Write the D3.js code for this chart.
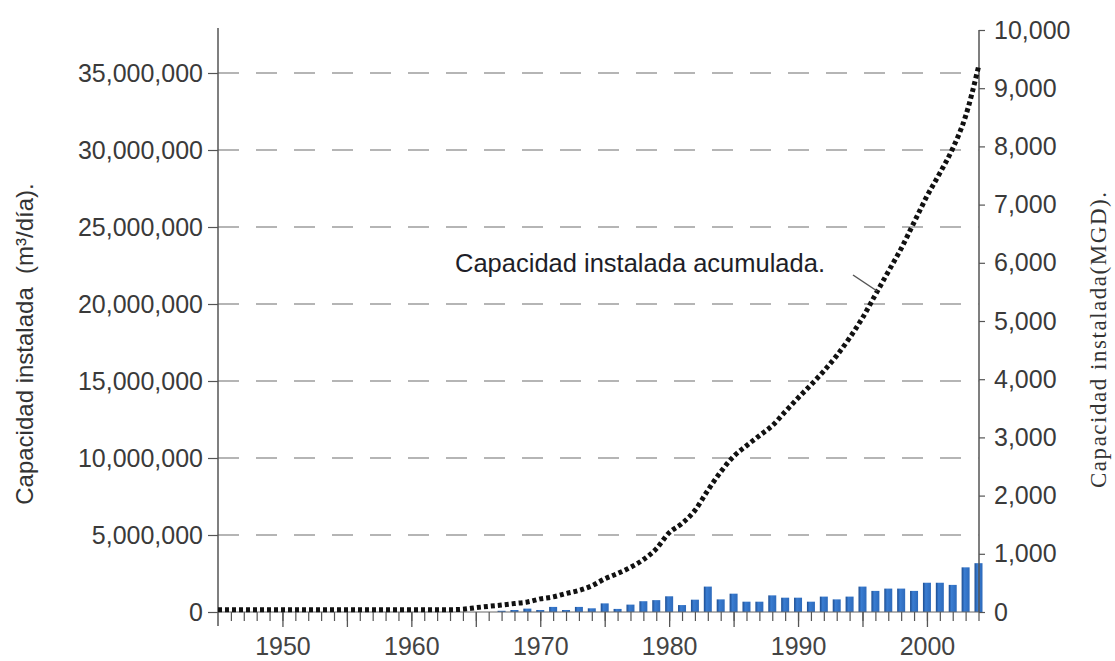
<!DOCTYPE html>
<html>
<head>
<meta charset="utf-8">
<script src="https://cdn.jsdelivr.net/npm/d3@7"></script>
<style>
  html, body { margin: 0; padding: 0; background: #fff; }
  svg { display: block; }
</style>
</head>
<body>
<svg id="chart" width="1115" height="661"></svg>
<script>
// ---- data ----
const cumYears = d3.range(1945, 2005);
// cumulative installed capacity, millions of m3/day
const cumValues = [
  0.15, 0.15, 0.15, 0.15, 0.15, 0.15, 0.15, 0.15, 0.15, 0.15,   // 1945-1954
  0.15, 0.15, 0.15, 0.15, 0.15, 0.15, 0.15, 0.15, 0.15, 0.18,   // 1955-1964
  0.28, 0.37, 0.45, 0.55, 0.65, 0.85, 0.98, 1.2, 1.4, 1.7,      // 1965-1974
  2.15, 2.5, 2.9, 3.4, 4.1, 5.15, 5.75, 6.6, 7.9, 9.1,          // 1975-1984
  10.1, 10.8, 11.45, 12.1, 13.0, 13.9, 14.75, 15.65, 16.65, 17.8, // 1985-1994
  19.1, 20.6, 22.1, 23.6, 25.3, 27.0, 28.5, 30.1, 32.2, 35.4    // 1995-2004
];
const barYears = d3.range(1967, 2005);
// annual installed capacity, millions of m3/day
const barValues = [
  0.08, 0.13, 0.22, 0.13, 0.33, 0.13, 0.33, 0.24,               // 1967-1974
  0.56, 0.2, 0.48, 0.7, 0.77, 1.02, 0.45, 0.8, 1.65, 0.82,      // 1975-1984
  1.19, 0.67, 0.67, 1.08, 0.93, 0.93, 0.67, 1.0, 0.82, 1.0,     // 1985-1994
  1.65, 1.37, 1.52, 1.52, 1.37, 1.9, 1.9, 1.76, 2.9, 3.17       // 1995-2004
];
const leftTicks = [0, 5e6, 10e6, 15e6, 20e6, 25e6, 30e6, 35e6];
const rightTicks = [0, 1000, 2000, 3000, 4000, 5000, 6000, 7000, 8000, 9000, 10000];
const xLabelYears = [1950, 1960, 1970, 1980, 1990, 2000];
const leftTitle = "Capacidad instalada  (m³/día).";
const rightTitle = "Capacidad instalada(MGD).";
const annotation = "Capacidad instalada acumulada.";

const SANS = "'Liberation Sans', Arial, sans-serif";
const SERIF = "'Liberation Serif', 'Times New Roman', serif";

// ---- scales ----
const svg = d3.select("#chart");
const x = d3.scaleLinear().domain([1945, 2004]).range([218, 978.5]);
const yL = d3.scaleLinear().domain([0, 35e6]).range([612, 73]);
const yR = d3.scaleLinear().domain([0, 10000]).range([612, 30]);

const defs = svg.append("defs");
const grad = defs.append("linearGradient").attr("id", "barGrad")
  .attr("x1", "0").attr("x2", "1").attr("y1", "0").attr("y2", "0");
grad.append("stop").attr("offset", "0").attr("stop-color", "#1c4c90");
grad.append("stop").attr("offset", "0.35").attr("stop-color", "#3a7dd2");
grad.append("stop").attr("offset", "1").attr("stop-color", "#2d6abb");

// ---- gridlines ----
svg.append("g")
  .selectAll("line")
  .data(leftTicks.filter(d => d > 0))
  .join("line")
  .attr("x1", x(1945)).attr("x2", x(2004))
  .attr("y1", d => yL(d)).attr("y2", d => yL(d))
  .attr("stroke", "#b5b5b5").attr("stroke-width", 1.8)
  .attr("stroke-dasharray", "21,17");

// ---- bars ----
const barW = 8;
svg.append("g")
  .selectAll("rect")
  .data(barYears.map((yr, i) => ({ yr, v: barValues[i] * 1e6 })))
  .join("rect")
  .attr("x", d => x(d.yr) - barW / 2)
  .attr("width", barW)
  .attr("y", d => yL(d.v))
  .attr("height", d => yL(0) - yL(d.v))
  .attr("fill", "url(#barGrad)");

// ---- x axis ----
svg.append("line")
  .attr("x1", x(1945)).attr("x2", x(2004) + 1)
  .attr("y1", yL(0)).attr("y2", yL(0))
  .attr("stroke", "#666").attr("stroke-width", 1);

const xMinor = d3.axisBottom(x).tickValues(d3.range(1946, 2005)).tickSize(9).tickFormat("");
svg.append("g").attr("transform", `translate(0,${yL(0)})`).call(xMinor)
  .call(g => g.select(".domain").remove())
  .call(g => g.selectAll("line").attr("stroke", "#555").attr("stroke-width", 1.2));

const xMajor = d3.axisBottom(x).tickValues(d3.range(1950, 2005, 5)).tickSize(15)
  .tickFormat(d => xLabelYears.includes(d) ? String(d) : "");
svg.append("g").attr("transform", `translate(0,${yL(0)})`).call(xMajor)
  .call(g => g.select(".domain").remove())
  .call(g => g.selectAll("line").attr("stroke", "#555").attr("stroke-width", 1.3))
  .call(g => g.selectAll("text")
    .attr("y", 0).attr("dy", 0)
    .attr("transform", "translate(0,43)")
    .style("font-size", "25px").attr("fill", "#444")
    .style("font-family", SANS));

// ---- left axis ----
svg.append("line")
  .attr("x1", 218).attr("x2", 218).attr("y1", 28).attr("y2", 626)
  .attr("stroke", "#555").attr("stroke-width", 1.5);
const leftAxis = d3.axisLeft(yL).tickValues(leftTicks).tickSize(10).tickPadding(5)
  .tickFormat(d3.format(","));
svg.append("g").attr("transform", "translate(218,0)").call(leftAxis)
  .call(g => g.select(".domain").remove())
  .call(g => g.selectAll("line").attr("stroke", "#555").attr("stroke-width", 1.2))
  .call(g => g.selectAll("text")
    .style("font-size", "25px").attr("fill", "#3a3a3a")
    .style("font-family", SANS));

// ---- right axis ----
svg.append("line")
  .attr("x1", 979).attr("x2", 979).attr("y1", yR(10000)).attr("y2", yR(0))
  .attr("stroke", "#555").attr("stroke-width", 1.5);
const rightAxis = d3.axisRight(yR).tickValues(rightTicks).tickSize(6).tickPadding(9)
  .tickFormat(d3.format(","));
svg.append("g").attr("transform", "translate(979,0)").call(rightAxis)
  .call(g => g.select(".domain").remove())
  .call(g => g.selectAll("line").attr("stroke", "#555").attr("stroke-width", 1.2))
  .call(g => g.selectAll("text")
    .style("font-size", "25px").attr("fill", "#3a3a3a")
    .style("font-family", SANS));

// ---- cumulative dotted line ----
const line = d3.line()
  .x((d, i) => x(cumYears[i]))
  .y(d => yL(d * 1e6))
  .curve(d3.curveMonotoneX);
svg.append("path")
  .datum(cumValues)
  .attr("d", line)
  .attr("fill", "none")
  .attr("stroke", "#111")
  .attr("stroke-width", 5)
  .attr("stroke-dasharray", "4,3");

// ---- annotation ----
svg.append("text")
  .attr("x", 455).attr("y", 272)
  .style("font-size", "25.5px").style("font-family", SANS).attr("fill", "#1e1e28")
  .text(annotation);
svg.append("line")
  .attr("x1", 853).attr("y1", 275).attr("x2", 877).attr("y2", 291)
  .attr("stroke", "#555").attr("stroke-width", 1.5);

// ---- axis titles ----
svg.append("text")
  .attr("transform", "translate(33,344) rotate(-90)")
  .attr("text-anchor", "middle")
  .style("font-size", "24px").style("font-family", SANS).attr("fill", "#333")
  .attr("xml:space", "preserve")
  .style("white-space", "pre")
  .text(leftTitle);
svg.append("text")
  .attr("transform", "translate(1106,340) rotate(-90)")
  .attr("text-anchor", "middle")
  .style("font-size", "23px").style("font-family", SERIF).attr("fill", "#333")
  .attr("textLength", 296).attr("lengthAdjust", "spacing")
  .text(rightTitle);
</script>
</body>
</html>
